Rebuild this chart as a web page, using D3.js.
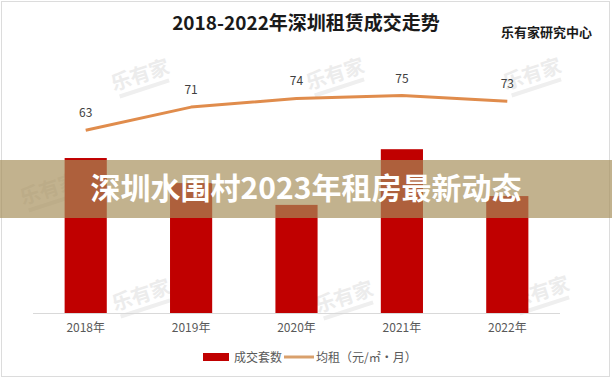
<!DOCTYPE html>
<html>
  <head>
    <meta charset="utf-8">
    <script src="https://d3js.org/d3.v7.min.js"></script>
    <style>
      body { margin: 0; background-color: white; }
      text { font-family: "Noto Sans CJK SC", "Noto Sans", sans-serif; }
    </style>
  </head>
  <body>
    <svg id="canvas" width="612" height="378"></svg>
    <script>
      // chart data
      const years = ['2018年', '2019年', '2020年', '2021年', '2022年']
      const deals = [16700, 14000, 11650, 17650, 12600]   // 成交套数 (no labels shown)
      const rents = [63, 71, 74, 75, 73]                  // 均租（元/㎡·月）
      const legendNames = ['成交套数', '均租（元/㎡·月）']

      const title = '2018-2022年深圳租赁成交走势'
      const source = '乐有家研究中心'
      const banner = '深圳水围村2023年租房最新动态'

      const barColor = '#c00000'
      const lineColor = '#e08c4c'

      let svg = d3.select('#canvas')

      // outer frame
      svg.append('rect')
        .attr('x', 1.5).attr('y', 1.5)
        .attr('width', 608).attr('height', 375)
        .attr('fill', 'white')
        .attr('stroke', '#dcdcdc')

      let x = d3.scaleBand().domain(years).range([33, 560])
        .paddingInner(0.6).paddingOuter(0.3)
      let yBar = d3.scaleLinear().domain([0, 25000]).range([313, 81])
      let yLine = d3.scaleLinear().domain([0, 80]).range([313, 81])

      // faint watermarks
      const marks = [[141, 78], [336, 77], [533, 77], [50, 192], [142, 298], [345, 300], [541, 295]]
      let wm = svg.append('g')
      marks.forEach(m => {
        let g = wm.append('g').attr('transform', `translate(${m[0]},${m[1]}) rotate(-18)`)
        g.append('text').attr('text-anchor', 'middle').attr('y', 4)
          .attr('font-size', 20).attr('font-weight', 'bold')
          .attr('fill', '#ececec').text('乐有家')
        g.append('rect').attr('x', -26).attr('y', 9).attr('width', 52).attr('height', 4)
          .attr('fill', '#efefef')
      })

      // title
      svg.append('text')
        .attr('x', 306).attr('y', 30)
        .attr('text-anchor', 'middle')
        .attr('font-size', 19).attr('font-weight', 'bold')
        .attr('fill', '#1a1a1a')
        .text(title)

      svg.append('text')
        .attr('x', 592).attr('y', 37)
        .attr('text-anchor', 'end')
        .attr('font-size', 13).attr('font-weight', 'bold')
        .attr('fill', '#1a1a1a')
        .text(source)

      // axis
      let axis = svg.append('g')
        .attr('transform', 'translate(0,313)')
        .call(d3.axisBottom(x).tickSize(0).tickPadding(10))
      axis.select('.domain').attr('stroke', '#d9d9d9').attr('d', 'M33,0.5H560')
      axis.selectAll('text')
        .attr('font-size', 12).attr('fill', '#595959')
        .attr('font-family', '"Noto Sans", "Noto Sans CJK SC", sans-serif')

      // bars
      svg.append('g').selectAll('rect').data(deals)
        .enter()
        .append('rect')
          .attr('x', (d, i) => x(years[i]))
          .attr('y', d => yBar(d))
          .attr('width', x.bandwidth())
          .attr('height', d => 313 - yBar(d))
          .attr('fill', barColor)

      // rent line
      let line = d3.line()
        .x((d, i) => x(years[i]) + x.bandwidth() / 2)
        .y(d => yLine(d))
      svg.append('path')
        .datum(rents)
        .attr('d', line)
        .attr('fill', 'none')
        .attr('stroke', lineColor)
        .attr('stroke-width', 3)
        .attr('stroke-linejoin', 'round')

      svg.append('g').selectAll('text').data(rents)
        .enter()
        .append('text')
          .attr('x', (d, i) => x(years[i]) + x.bandwidth() / 2)
          .attr('y', d => yLine(d) - 13)
          .attr('text-anchor', 'middle')
          .attr('font-size', 12)
          .attr('fill', '#404040')
          .attr('font-family', '"Noto Sans", sans-serif')
          .text(d => d)

      // legend
      let lg = svg.append('g')
      lg.append('rect').attr('x', 203).attr('y', 353).attr('width', 26).attr('height', 8).attr('fill', barColor)
      lg.append('text').attr('x', 234).attr('y', 361.5).attr('font-size', 12).attr('fill', '#595959').text(legendNames[0])
      lg.append('line').attr('x1', 284).attr('x2', 314).attr('y1', 357).attr('y2', 357)
        .attr('stroke', '#d9a06c').attr('stroke-width', 3)
      lg.append('text').attr('x', 316).attr('y', 361.5).attr('font-size', 12).attr('fill', '#595959').text(legendNames[1])

      // overlay banner
      svg.append('rect')
        .attr('x', 0).attr('y', 160)
        .attr('width', 612).attr('height', 58)
        .attr('fill', 'rgb(165,141,88)')
        .attr('fill-opacity', 0.68)
      svg.append('text')
        .attr('x', 306).attr('y', 199)
        .attr('text-anchor', 'middle')
        .attr('font-size', 30).attr('font-weight', 'bold')
        .attr('fill', 'white')
        .text(banner)
    </script>
  </body>
</html>
